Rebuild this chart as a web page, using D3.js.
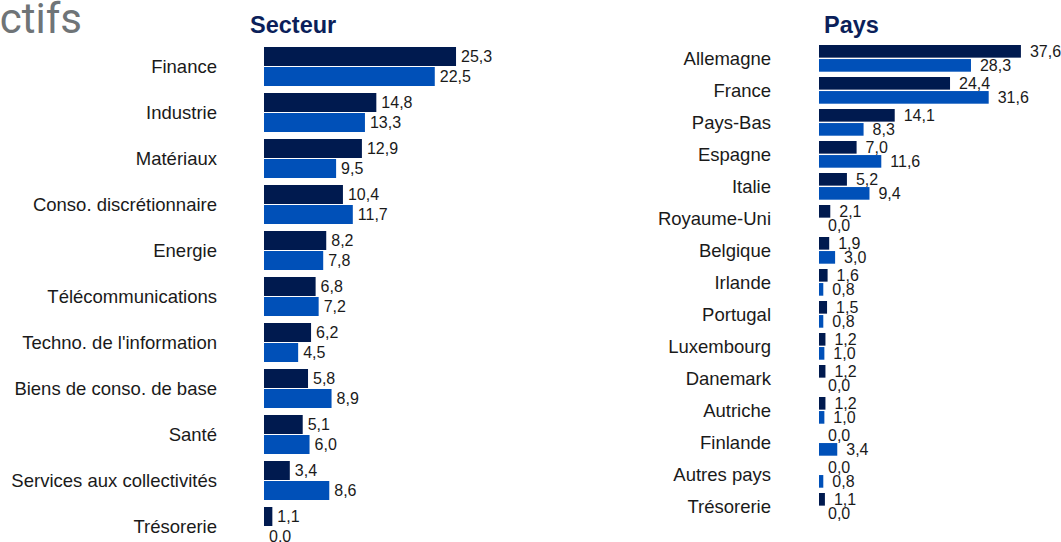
<!DOCTYPE html>
<html lang="fr">
<head>
<meta charset="utf-8">
<script src="https://cdn.jsdelivr.net/npm/d3@7"></script>
<style>
  html, body { margin: 0; padding: 0; background: #fff; overflow: hidden; }
  svg { display: block; font-family: "Liberation Sans", Arial, sans-serif; }
</style>
</head>
<body>
<svg id="chart" width="1061" height="542"></svg>
<script>
// Répartition par secteur (portefeuille / indice), en %
const secteurs = ["Finance", "Industrie", "Matériaux", "Conso. discrétionnaire", "Energie",
  "Télécommunications", "Techno. de l'information", "Biens de conso. de base", "Santé",
  "Services aux collectivités", "Trésorerie"];
const secteurFonds  = [25.3, 14.8, 12.9, 10.4, 8.2, 6.8, 6.2, 5.8, 5.1, 3.4, 1.1];
const secteurIndice = [22.5, 13.3, 9.5, 11.7, 7.8, 7.2, 4.5, 8.9, 6.0, 8.6, 0.0];

// Répartition par pays (portefeuille / indice), en %
const pays = ["Allemagne", "France", "Pays-Bas", "Espagne", "Italie", "Royaume-Uni", "Belgique",
  "Irlande", "Portugal", "Luxembourg", "Danemark", "Autriche", "Finlande", "Autres pays", "Trésorerie"];
const paysFonds  = [37.6, 24.4, 14.1, 7.0, 5.2, 2.1, 1.9, 1.6, 1.5, 1.2, 1.2, 1.2, 0.0, 0.0, 1.1];
const paysIndice = [28.3, 31.6, 8.3, 11.6, 9.4, 0.0, 3.0, 0.8, 0.8, 1.0, 0.0, 1.0, 3.4, 0.8, 0.0];

const series = ["Fonds", "Indice"];
const colors = ["#001a4f", "#0050b8"];

const fr = d3.formatLocale({ decimal: ",", thousands: " ", grouping: [3], currency: ["", " €"] });
const fmt = fr.format(".1f");

const svg = d3.select("#chart");

// Titre de section tronqué à gauche
svg.append("text")
  .attr("x", 82).attr("y", 33)
  .attr("text-anchor", "end")
  .style("font-family", "Roboto, 'Liberation Sans', sans-serif")
  .style("font-size", "42px")
  .style("font-weight", 400)
  .attr("fill", "#6f7477")
  .text("Objectifs");

function panel(cfg) {
  const g = svg.append("g");
  const rows = cfg.categories.map((c, i) => ({ cat: c, vals: [cfg.a[i], cfg.b[i]] }));

  const y = d3.scaleBand()
    .domain(cfg.categories)
    .range([cfg.top, cfg.top + cfg.step * cfg.categories.length])
    .padding(0);
  const yInner = d3.scaleBand()
    .domain(series)
    .range([0, cfg.groupH])
    .paddingInner(cfg.innerPad);
  const x = d3.scaleLinear()
    .domain([0, cfg.max])
    .range([cfg.x0, cfg.x0 + cfg.max * cfg.pxPerUnit]);

  g.append("text")
    .attr("x", cfg.titleX).attr("y", 33)
    .style("font-size", "23.5px")
    .style("font-weight", "bold")
    .attr("fill", "#0b1f5a")
    .text(cfg.title);

  // Libellés de catégories
  const axis = d3.axisLeft(y).tickSize(0).tickPadding(0);
  const ax = g.append("g")
    .attr("transform", `translate(${cfg.labelX},0)`)
    .call(axis);
  ax.select(".domain").remove();
  ax.selectAll(".tick")
    .attr("transform", d => `translate(0,${y(d) + cfg.labelDy})`);
  ax.selectAll(".tick text")
    .attr("x", 0).attr("dy", "0.35em")
    .style("font-family", "'Liberation Sans', Arial, sans-serif")
    .style("font-size", cfg.labelSize + "px")
    .attr("fill", "#1a1a1a");

  const grp = g.selectAll("g.row").data(rows).join("g")
    .attr("class", "row")
    .attr("transform", d => `translate(0,${y(d.cat)})`);

  const items = grp.selectAll("g.item")
    .data(d => d.vals.map((v, k) => ({ v, s: series[k], k })))
    .join("g").attr("class", "item");

  items.append("rect")
    .attr("x", x(0))
    .attr("y", d => yInner(d.s))
    .attr("width", d => x(d.v) - x(0))
    .attr("height", yInner.bandwidth())
    .attr("fill", d => colors[d.k]);

  items.append("text")
    .attr("x", d => x(d.v) + cfg.valueGap)
    .attr("y", d => yInner(d.s) + yInner.bandwidth() / 2)
    .attr("dy", "0.36em")
    .style("font-size", "16px")
    .attr("fill", "#1a1a1a")
    .text(d => fmt(d.v));
}

panel({
  title: "Secteur", titleX: 250,
  categories: secteurs, a: secteurFonds, b: secteurIndice,
  top: 47, step: 46, groupH: 39, innerPad: 0.05,
  x0: 264, pxPerUnit: 7.59, max: 26,
  labelX: 217, labelDy: 20, labelSize: 18.5,
  valueGap: 5
});

panel({
  title: "Pays", titleX: 824,
  categories: pays, a: paysFonds, b: paysIndice,
  top: 45, step: 32, groupH: 26.7, innerPad: 0.1,
  x0: 819, pxPerUnit: 5.37, max: 38,
  labelX: 771, labelDy: 14, labelSize: 18.5,
  valueGap: 9
});
</script>
</body>
</html>
